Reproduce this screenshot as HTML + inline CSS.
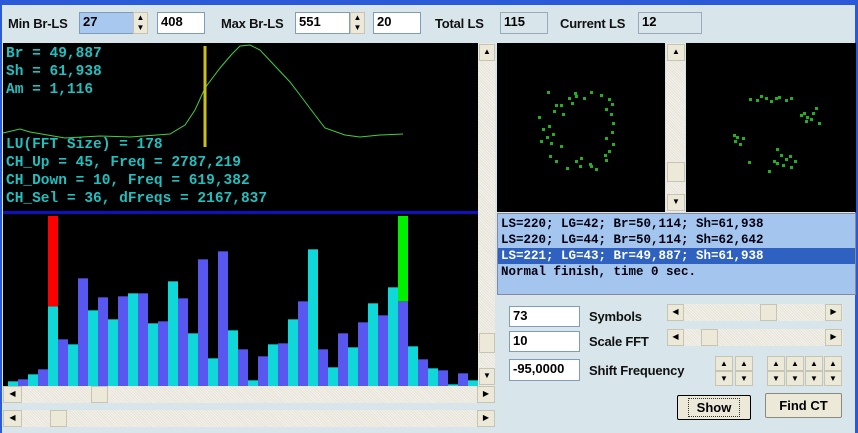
<!DOCTYPE html>
<html><head><meta charset="utf-8">
<style>
*{box-sizing:border-box;margin:0;padding:0}
body{width:858px;height:433px;overflow:hidden;background:#d8e6ec;font-family:"Liberation Sans",Arial,sans-serif;position:relative}
.a{position:absolute}
.lbl{position:absolute;font-size:13px;font-weight:bold;color:#111;letter-spacing:-0.2px}
.edit{position:absolute;background:#fff;border:1px solid #7f9db9;font-size:13px;font-weight:bold;padding:1px 3px;color:#000}
.ro{background:#d8e6ec;border:1px solid #9ab}
.btn{position:absolute;background:#ece9d8;border:1px solid #8a8a80;border-radius:2px;font-size:13px;font-weight:bold;text-align:center;color:#000}
.sb{position:absolute;background:repeating-linear-gradient(45deg,#f3f1ea 0 1px,#e6e3d8 1px 2px)}
.arr{position:absolute;background:#ece9d8;border:1px solid #c8c4b4;font-size:8px;line-height:14px;text-align:center;color:#000}
.mono{font-family:"Liberation Mono",monospace;font-weight:bold}
</style></head><body>
<div class="a" style="left:0;top:0;width:858px;height:5px;background:#2a5ad8"></div>
<div class="a" style="left:855px;top:0;width:3px;height:433px;background:#2a5ad8"></div>
<div class="a" style="left:0;top:0;width:2px;height:433px;background:#2a5ad8"></div>

<!-- toolbar -->
<div class="lbl" style="left:8px;top:16px">Min Br-LS</div>
<div class="edit" style="left:79px;top:12px;width:55px;height:22px;background:#a8c8f0">27</div>
<div class="arr" style="left:133px;top:12px;width:15px;height:22px;line-height:10px">▲<br>▼</div>
<div class="edit" style="left:157px;top:12px;width:48px;height:22px">408</div>
<div class="lbl" style="left:221px;top:16px">Max Br-LS</div>
<div class="edit" style="left:295px;top:12px;width:55px;height:22px">551</div>
<div class="arr" style="left:350px;top:12px;width:15px;height:22px;line-height:10px">▲<br>▼</div>
<div class="edit" style="left:373px;top:12px;width:48px;height:22px">20</div>
<div class="lbl" style="left:435px;top:16px">Total LS</div>
<div class="edit ro" style="left:500px;top:12px;width:48px;height:22px">115</div>
<div class="lbl" style="left:560px;top:16px">Current LS</div>
<div class="edit ro" style="left:638px;top:12px;width:64px;height:22px">12</div>

<!-- left plots -->
<svg class="a" style="left:0;top:0" width="858" height="433">
<rect x="3" y="43" width="475" height="343" fill="#000"/>
<rect x="3" y="211" width="475" height="3" fill="#1010c0"/>
<g id="curve"></g>
<line x1="205" y1="46" x2="205" y2="147" stroke="#c8c020" stroke-width="3"/>
<g id="bars"></g>
<rect x="497" y="43" width="168" height="169" fill="#000"/>
<rect x="686" y="43" width="170" height="169" fill="#000"/>
<g id="pts"></g>
</svg>

<div class="a mono" style="left:6px;top:45px;color:#20c0c0;font-size:14.5px;line-height:18px;white-space:pre">Br = 49,887
Sh = 61,938
Am = 1,116</div>
<div class="a mono" style="left:6px;top:136px;color:#20c0c0;font-size:14.5px;line-height:18px;white-space:pre">LU(FFT Size) = 178
CH_Up = 45, Freq = 2787,219
CH_Down = 10, Freq = 619,382
CH_Sel = 36, dFreqs = 2167,837</div>

<!-- scrollbars left -->
<div class="sb" style="left:478px;top:43px;width:17px;height:343px"></div>
<div class="arr" style="left:479px;top:44px;width:16px;height:17px">▲</div>
<div class="arr" style="left:479px;top:333px;width:16px;height:20px"></div>
<div class="arr" style="left:479px;top:368px;width:16px;height:17px">▼</div>
<div class="sb" style="left:3px;top:386px;width:492px;height:17px"></div>
<div class="arr" style="left:3px;top:386px;width:19px;height:17px">◀</div>
<div class="arr" style="left:91px;top:386px;width:17px;height:17px"></div>
<div class="arr" style="left:477px;top:386px;width:18px;height:17px">▶</div>
<div class="sb" style="left:3px;top:410px;width:492px;height:17px"></div>
<div class="arr" style="left:3px;top:410px;width:19px;height:17px">◀</div>
<div class="arr" style="left:50px;top:410px;width:17px;height:17px"></div>
<div class="arr" style="left:477px;top:410px;width:18px;height:17px">▶</div>

<!-- middle vscroll -->
<div class="sb" style="left:666px;top:43px;width:19px;height:169px"></div>
<div class="arr" style="left:667px;top:44px;width:18px;height:17px">▲</div>
<div class="arr" style="left:667px;top:162px;width:18px;height:20px"></div>
<div class="arr" style="left:667px;top:194px;width:18px;height:17px">▼</div>

<!-- list -->
<div class="a mono" style="left:497px;top:213px;width:359px;height:82px;background:#a4c6ee;font-size:12.5px;line-height:16px;color:#001;padding:2px 3px;white-space:pre;border:1px solid #889">LS=220; LG=42; Br=50,114; Sh=61,938
LS=220; LG=44; Br=50,114; Sh=62,642
<span style="display:block;background:#2f62c0;color:#fff;margin:0 -3px;padding:0 3px">LS=221; LG=43; Br=49,887; Sh=61,938</span>Normal finish, time 0 sec.</div>

<!-- controls -->
<div class="edit" style="left:509px;top:306px;width:71px;height:21px">73</div>
<div class="lbl" style="left:589px;top:309px">Symbols</div>
<div class="sb" style="left:667px;top:304px;width:176px;height:17px"></div>
<div class="arr" style="left:667px;top:304px;width:17px;height:17px">◀</div>
<div class="arr" style="left:760px;top:304px;width:17px;height:17px"></div>
<div class="arr" style="left:825px;top:304px;width:17px;height:17px">▶</div>
<div class="edit" style="left:509px;top:331px;width:71px;height:21px">10</div>
<div class="lbl" style="left:589px;top:334px">Scale FFT</div>
<div class="sb" style="left:667px;top:329px;width:176px;height:17px"></div>
<div class="arr" style="left:667px;top:329px;width:17px;height:17px">◀</div>
<div class="arr" style="left:701px;top:329px;width:17px;height:17px"></div>
<div class="arr" style="left:825px;top:329px;width:17px;height:17px">▶</div>
<div class="edit" style="left:509px;top:359px;width:71px;height:22px">-95,0000</div>
<div class="lbl" style="left:589px;top:363px">Shift Frequency</div>
<div id="spins"></div>
<div class="btn" style="left:677px;top:395px;width:74px;height:25px;line-height:23px;border:1px solid #000"><span style="border:1px dotted #333;padding:1px 8px">Show</span></div>
<div class="btn" style="left:765px;top:393px;width:77px;height:25px;line-height:23px">Find CT</div>

<script>
const barValues=[14,20,35,50,239,140,125,323,227,266,200,269,278,278,188,194,314,263,158,380,83,404,167,110,17,89,125,128,200,254,410,110,56,158,116,191,248,212,296,254,119,80,53,47,5,38,17];
const barColors=["#10d8d8","#5858f0"];
const redBar=4, greenBar=39;
const curveX=[3,20,30,65,100,130,170,185,195,205,220,232,240,250,260,275,290,300,315,325,345,360,380,403];
const curveY=[133,129,132,138,136,137,134,125,110,88,68,54,46,45,50,66,82,95,115,128,135,137,135,134];
const leftPts=[[547,91],[575,95],[590,91],[568,97],[555,104],[538,116],[553,110],[542,128],[546,136],[550,142],[549,155],[560,145],[555,160],[566,167],[575,160],[579,165],[590,165],[595,168],[605,159],[608,150],[612,143],[605,137],[611,131],[612,122],[610,113],[611,103],[605,108],[608,98],[600,94],[560,104],[583,97],[571,102],[548,125],[562,113],[574,92],[589,163],[580,157],[604,154],[552,133],[540,140]];
const rightPts=[[749,98],[756,99],[760,95],[765,97],[770,100],[775,97],[778,96],[785,99],[790,97],[800,114],[806,116],[810,118],[805,120],[812,112],[815,107],[818,122],[803,112],[736,136],[734,140],[739,143],[742,137],[733,134],[748,161],[776,148],[780,154],[776,162],[782,164],[785,158],[790,166],[789,155],[794,160],[768,170],[773,160]];
const y0=386, kb=1/3;
const bars=document.getElementById('bars');
barValues.forEach((v,i)=>{
  const x=8+i*10, h=v*kb;
  const r=document.createElementNS('http://www.w3.org/2000/svg','rect');
  r.setAttribute('x',x);r.setAttribute('y',y0-h);r.setAttribute('width',10);r.setAttribute('height',h);
  r.setAttribute('fill',barColors[i%2]);
  
  
  bars.appendChild(r);
  if(i===redBar||i===greenBar){
    const t=document.createElementNS('http://www.w3.org/2000/svg','rect');
    t.setAttribute('x',x);t.setAttribute('y',216);t.setAttribute('width',10);t.setAttribute('height',Math.max(0,y0-h-216));
    t.setAttribute('fill',i===redBar?'#ff0000':'#00f000');
    
    
    bars.appendChild(t);
  }
});
const pl=document.createElementNS('http://www.w3.org/2000/svg','polyline');
pl.setAttribute('points',curveX.map((x,i)=>x+','+curveY[i]).join(' '));
pl.setAttribute('fill','none');pl.setAttribute('stroke','#40d040');pl.setAttribute('stroke-width','1');


document.getElementById('curve').appendChild(pl);
const pts=document.getElementById('pts');
leftPts.concat(rightPts).forEach(p=>{
  const r=document.createElementNS('http://www.w3.org/2000/svg','rect');
  r.setAttribute('x',p[0]);r.setAttribute('y',p[1]);r.setAttribute('width',3);r.setAttribute('height',3);r.setAttribute('fill','#20b020');
  
  
  pts.appendChild(r);
});
const sp=document.getElementById('spins');
[715,735,767,786,805,824].forEach(x=>{
  [[356,'▲'],[371,'▼']].forEach(([y,c])=>{
    const d=document.createElement('div');
    d.className='arr';d.style.cssText='left:'+x+'px;top:'+y+'px;width:18px;height:15px;line-height:13px';d.textContent=c;
    
    
    sp.appendChild(d);
  });
});
</script>
</body></html>
